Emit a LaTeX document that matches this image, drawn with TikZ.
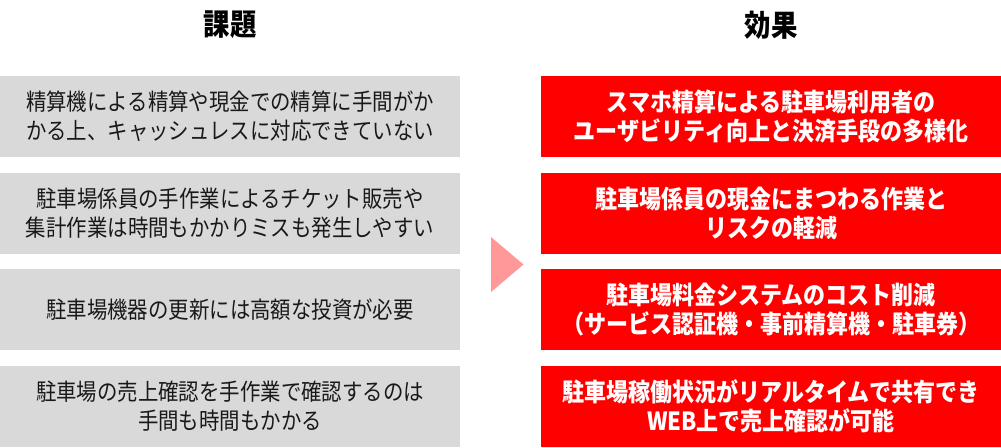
\documentclass[tikz,border=0pt]{standalone}
\usepackage{fontspec}
\setmainfont{Noto Sans CJK JP}
\newfontfamily\narrowjp[FakeStretch=0.88]{Noto Sans CJK JP}
\usetikzlibrary{positioning}
\definecolor{issuegray}{HTML}{D9D9D9}
\definecolor{effectred}{HTML}{FF0000}
\definecolor{arrowpink}{HTML}{FF9999}
\begin{document}
\begin{tikzpicture}[x=1pt, y=-1pt,
        heading/.style={font=\narrowjp\fontsize{30}{32}\selectfont\bfseries, inner sep=0pt},
        issue/.style={rectangle, fill=issuegray, minimum width=460pt, minimum height=81pt, inner sep=0pt, align=center, text=black!90, font=\narrowjp\fontsize{23.2}{29}\selectfont},
        effect/.style={rectangle, fill=effectred, minimum width=460pt, minimum height=81pt, inner sep=0pt, align=center, text=white, font=\narrowjp\fontsize{25}{29}\selectfont\bfseries}
    ]
        \useasboundingbox (0,0) rectangle (1001,447);

        \node[heading] (kadai) at (230, 25) {課題};
        \node[heading] (kouka) at (771, 25) {効果};

        % left column
        \node[issue] (issue1) at (230, 116.5) {精算機による精算や現金での精算に手間がか\\かる上、キャッシュレスに対応できていない};
        \node[issue] (issue2) at (230, 213.2) {駐車場係員の手作業によるチケット販売や\\集計作業は時間もかかりミスも発生しやすい};
        \node[issue] (issue3) at (230, 309.8) {駐車場機器の更新には高額な投資が必要};
        \node[issue] (issue4) at (230, 406.5) {駐車場の売上確認を手作業で確認するのは\\手間も時間もかかる};

        % right column
        \node[effect] (effect1) at (771, 116.5) {スマホ精算による駐車場利用者の\\ユーザビリティ向上と決済手段の多様化};
        \node[effect] (effect2) at (771, 213.2) {駐車場係員の現金にまつわる作業と\\リスクの軽減};
        \node[effect] (effect3) at (771, 309.8) {駐車場料金システムのコスト削減\\（サービス認証機・事前精算機・駐車券）};
        \node[effect] (effect4) at (771, 406.5) {駐車場稼働状況がリアルタイムで共有でき\\WEB上で売上確認が可能};

        % arrow between columns
        \fill[arrowpink] (491, 237) -- (523.5, 264.5) -- (491, 292) -- cycle;
    \end{tikzpicture}
\end{document}
